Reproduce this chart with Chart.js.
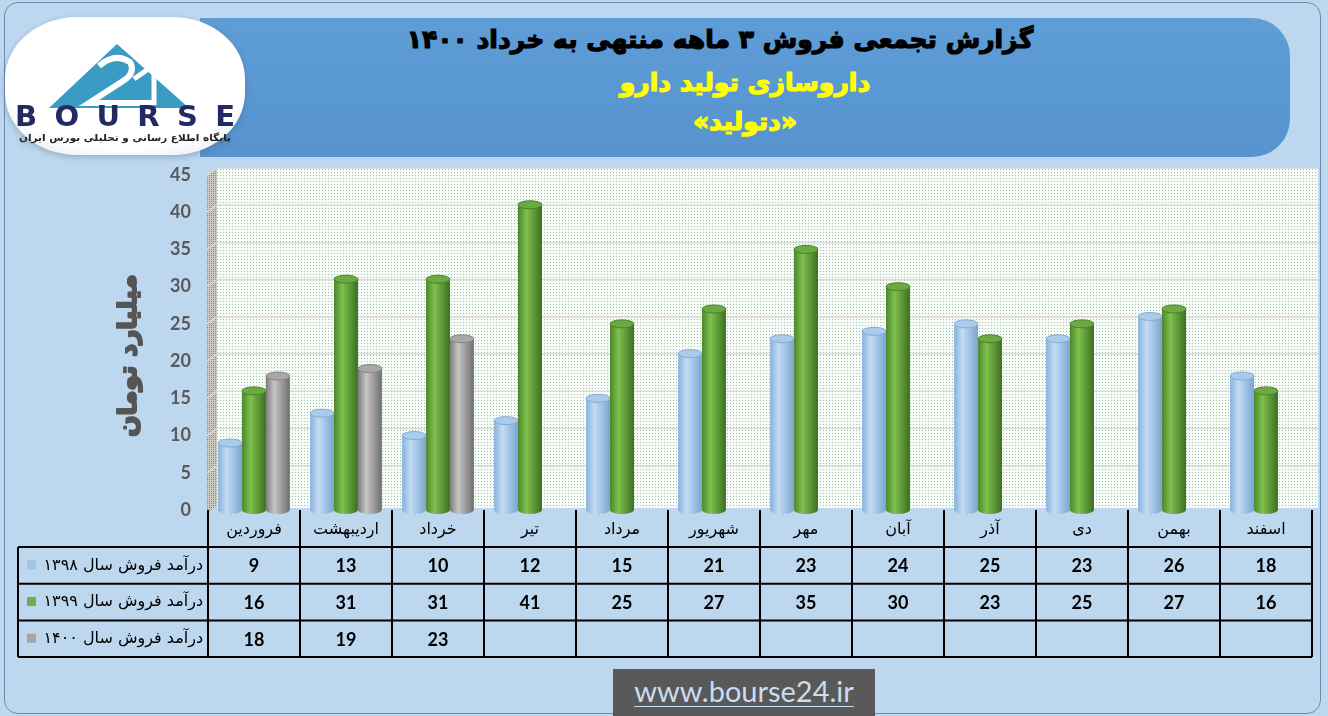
<!DOCTYPE html>
<html>
<head>
<meta charset="utf-8">
<script src="https://cdn.jsdelivr.net/npm/chart.js@4"></script>
<style>
html, body { margin: 0; padding: 0; }
body { width: 1328px; height: 716px; background: #bdd7ee; position: relative; overflow: hidden; font-family: "DejaVu Sans", sans-serif; }
#frame { position: absolute; left: 4px; top: 2px; width: 1317px; height: 712px; border: 1.5px solid #6a8cb3; border-radius: 14px; box-sizing: border-box; }
#banner { position: absolute; left: 200px; top: 18px; width: 1090px; height: 139px; background: linear-gradient(#5f9dd7, #5693cf); border-radius: 0 38px 38px 0; }
.t { position: absolute; direction: rtl; text-align: center; font-weight: bold; white-space: nowrap; }
#t1 { left: 380px; width: 680px; top: 25px; font-size: 25px; color: #000; -webkit-text-stroke: 1.2px #000; }
#t2 { left: 545px; width: 400px; top: 68px; font-size: 25px; color: #ffff00; -webkit-text-stroke: 1.2px #ffff00; }
#t3 { left: 545px; width: 400px; top: 107px; font-size: 25px; color: #ffff00; -webkit-text-stroke: 1.2px #ffff00; }
#logo { position: absolute; left: 3px; top: 15px; filter: drop-shadow(0 2px 3px rgba(60,90,130,0.35)); }
#chart { position: absolute; left: 0; top: 0; }
#footer { position: absolute; left: 613px; top: 669px; width: 262px; height: 47px; background: #595959; text-align: center; }
#footer span { display: inline-block; margin-top: 4px; font-family: Lato, sans-serif; font-size: 29px; color: #c9dcf0; text-decoration: underline; text-decoration-thickness: 1px; text-underline-offset: 4px; }
</style>
</head>
<body>
<div id="frame"></div>
<div id="banner"></div>
<div class="t" id="t1">گزارش تجمعی فروش ۳ ماهه منتهی به خرداد ۱۴۰۰</div>
<div class="t" id="t2">داروسازی تولید دارو</div>
<div class="t" id="t3">«دتولید»</div>
<canvas id="chart" width="1328" height="716"></canvas>
<div id="logo">
<svg width="245" height="145" viewBox="0 0 245 145">
  <defs>
    <radialGradient id="lg" cx="50%" cy="45%" r="70%">
      <stop offset="0.72" stop-color="#ffffff"/>
      <stop offset="1" stop-color="#e2e9f1"/>
    </radialGradient>
  </defs>
  <rect x="2" y="2" width="240" height="138" rx="72" ry="62" fill="url(#lg)"/>
  <polygon points="46,93 114,29 186,93" fill="#3a9cc3"/>
  <path d="M96,51 Q112,37 127,47 Q133,58 120,66 L86,88 L150,88" stroke="#fff" stroke-width="6" fill="none" stroke-linejoin="miter"/>
  <path d="M131,64 L151,50 L151,90" stroke="#fff" stroke-width="5" fill="none"/>
  <text x="12" y="111" font-family="DejaVu Sans" font-weight="bold" font-size="29" fill="#232a63" textLength="220" lengthAdjust="spacing">BOURSE</text>
  <text x="122" y="126" text-anchor="middle" direction="rtl" font-family="DejaVu Sans" font-weight="bold" font-size="9.5" fill="#222" textLength="212" lengthAdjust="spacingAndGlyphs">پایگاه اطلاع رسانی و تحلیلی بورس ایران</text>
</svg>
</div>
<div id="footer"><span>www.bourse24.ir</span></div>
<script>
const categories = ['فروردین', 'اردیبهشت', 'خرداد', 'تیر', 'مرداد', 'شهریور', 'مهر', 'آبان', 'آذر', 'دی', 'بهمن', 'اسفند'];
const seriesNames = ['درآمد فروش سال ۱۳۹۸', 'درآمد فروش سال ۱۳۹۹', 'درآمد فروش سال ۱۴۰۰'];
const sales1398 = [9, 13, 10, 12, 15, 21, 23, 24, 25, 23, 26, 18];
const sales1399 = [16, 31, 31, 41, 25, 27, 35, 30, 23, 25, 27, 16];
const sales1400 = [18, 19, 23, null, null, null, null, null, null, null, null, null];
const yTicks = [0, 5, 10, 15, 20, 25, 30, 35, 40, 45];
const yTitle = 'میلیارد تومان';

const swatches = ['#9dc3e6', '#70ad47', '#a5a5a5'];
const palettes = [
	{ body: ['#86b1dd', '#c2dcf4', '#7aa4d0'], cap: '#a9cbec', edge: '#84abd6' },
	{ body: ['#4a8628', '#80c04f', '#3b6f20'], cap: '#6aaa41', edge: '#4a8229' },
	{ body: ['#7c7c7c', '#c6c6c6', '#6e6e6e'], cap: '#a8a8a8', edge: '#858585' },
];

function makePattern(ctx, bg, dot, size) {
	let c = document.createElement('canvas');
	c.width = size; c.height = size;
	let p = c.getContext('2d');
	p.fillStyle = bg;
	p.fillRect(0, 0, size, size);
	p.fillStyle = dot;
	p.fillRect(1, 1, 1, 1);
	return ctx.createPattern(c, 'repeat');
}

function cylinder(ctx, x, top, base, w, pal) {
	let l = x - w / 2, r = x + w / 2, ry = 4;
	let g = ctx.createLinearGradient(l, 0, r, 0);
	g.addColorStop(0, pal.body[0]);
	g.addColorStop(0.35, pal.body[1]);
	g.addColorStop(1, pal.body[2]);
	ctx.fillStyle = g;
	ctx.beginPath();
	ctx.moveTo(l, top);
	ctx.lineTo(l, base);
	ctx.ellipse(x, base, w / 2, ry, 0, Math.PI, 0, true);
	ctx.lineTo(r, top);
	ctx.closePath();
	ctx.fill();
	ctx.beginPath();
	ctx.ellipse(x, top, w / 2, ry, 0, 0, Math.PI * 2);
	ctx.fillStyle = pal.cap;
	ctx.fill();
	ctx.lineWidth = 1;
	ctx.strokeStyle = pal.edge;
	ctx.stroke();
}

const decor = {
	id: 'decor',
	beforeDraw(chart) {
		let { ctx, chartArea: a, scales: { y } } = chart;
		ctx.save();
		// back wall
		ctx.fillStyle = makePattern(ctx, '#f7faf6', '#98c9a4', 3);
		ctx.fillRect(a.left + 9, a.top - 7, a.right - a.left - 3, a.bottom - a.top + 5);
		// side wall
		ctx.fillStyle = makePattern(ctx, '#c9c9c0', '#8a8a80', 2);
		ctx.beginPath();
		ctx.moveTo(a.left - 1, a.top + 1);
		ctx.lineTo(a.left + 9, a.top - 7);
		ctx.lineTo(a.left + 9, a.bottom - 4);
		ctx.lineTo(a.left - 1, a.bottom + 3);
		ctx.closePath();
		ctx.fill();
		// grid lines
		ctx.strokeStyle = '#d9d9d9';
		ctx.lineWidth = 1.5;
		yTicks.slice(1).forEach(v => {
			let py = y.getPixelForValue(v);
			ctx.beginPath();
			ctx.moveTo(a.left - 1, py);
			ctx.lineTo(a.left + 9, py - 7);
			ctx.lineTo(a.right + 6, py - 7);
			ctx.stroke();
		});
		// y axis title, heavy
		ctx.translate(129, (a.top + a.bottom) / 2 + 13);
		ctx.rotate(-Math.PI / 2);
		ctx.font = 'bold 25px "DejaVu Sans"';
		ctx.textAlign = 'center';
		ctx.textBaseline = 'middle';
		ctx.direction = 'rtl';
		ctx.fillStyle = '#555555';
		ctx.strokeStyle = '#555555';
		ctx.lineWidth = 2;
		ctx.lineJoin = 'round';
		ctx.strokeText(yTitle, 0, 0);
		ctx.fillText(yTitle, 0, 0);
		ctx.restore();
	},
	afterDatasetsDraw(chart) {
		let ctx = chart.ctx;
		ctx.save();
		chart.data.datasets.forEach((ds, di) => {
			let meta = chart.getDatasetMeta(di);
			meta.data.forEach((bar, i) => {
				if (ds.data[i] == null) return;
				cylinder(ctx, bar.x, bar.y, bar.base, bar.width, palettes[di]);
			});
		});
		ctx.restore();
	},
	afterDraw(chart) {
		let { ctx, chartArea: a, scales: { x } } = chart;
		let n = categories.length;
		let cw = (a.right - a.left) / n;
		let headTop = a.bottom, headBottom = a.bottom + 37, rowH = 36.7, tableLeft = 18;
		let tableBottom = headBottom + rowH * 3;
		ctx.save();
		ctx.strokeStyle = '#000';
		ctx.lineWidth = 2;
		ctx.beginPath();
		for (let i = 0; i <= n; i++) {
			let px = a.left + i * cw;
			ctx.moveTo(px, headTop);
			ctx.lineTo(px, tableBottom);
		}
		ctx.moveTo(tableLeft, headBottom);
		ctx.lineTo(tableLeft, tableBottom);
		for (let r = 0; r <= 3; r++) {
			let py = headBottom + r * rowH;
			ctx.moveTo(tableLeft, py);
			ctx.lineTo(a.right, py);
		}
		ctx.stroke();

		let rows = [sales1398, sales1399, sales1400];
		ctx.textBaseline = 'middle';
		rows.forEach((vals, r) => {
			let cy = headBottom + r * rowH + rowH / 2;
			ctx.fillStyle = swatches[r];
			ctx.fillRect(27, cy - 5, 9, 9);
			ctx.fillStyle = '#000';
			ctx.font = '16px "DejaVu Sans"';
			ctx.textAlign = 'right';
			ctx.direction = 'rtl';
			ctx.fillText(seriesNames[r], 203, cy);
			ctx.direction = 'ltr';
			ctx.textAlign = 'center';
			ctx.font = 'bold 18px Lato';
			vals.forEach((v, i) => {
				if (v == null) return;
				ctx.fillText(String(v), x.getPixelForValue(i), cy + 1);
			});
		});
		ctx.restore();
	}
};

new Chart(document.getElementById('chart'), {
	type: 'bar',
	data: {
		labels: categories,
		datasets: [
			{ label: seriesNames[0], data: sales1398 },
			{ label: seriesNames[1], data: sales1399 },
			{ label: seriesNames[2], data: sales1400 },
		].map(d => Object.assign(d, { backgroundColor: 'rgba(0,0,0,0)', borderWidth: 0, categoryPercentage: 0.78, barPercentage: 1 })),
	},
	options: {
		responsive: false,
		animation: false,
		layout: { padding: { left: 105, right: 16, top: 175, bottom: 169 } },
		plugins: { legend: { display: false }, tooltip: { enabled: false } },
		scales: {
			x: {
				grid: { display: false, drawTicks: false },
				border: { display: false },
				ticks: { color: '#000', font: { family: 'DejaVu Sans', size: 16 }, padding: 10, maxRotation: 0 },
				afterFit(scale) { scale.height = 37; },
			},
			y: {
				min: 0,
				max: 45,
				afterBuildTicks(scale) { scale.ticks = yTicks.map(v => ({ value: v })); },
				grid: { display: false, drawTicks: false },
				border: { display: false },
				ticks: { color: '#595959', font: { family: 'Lato', size: 18, weight: 'bold' }, padding: 17 },
				afterFit(scale) { scale.width = 103; },
			},
		},
	},
	plugins: [decor],
});
</script>
</body>
</html>
